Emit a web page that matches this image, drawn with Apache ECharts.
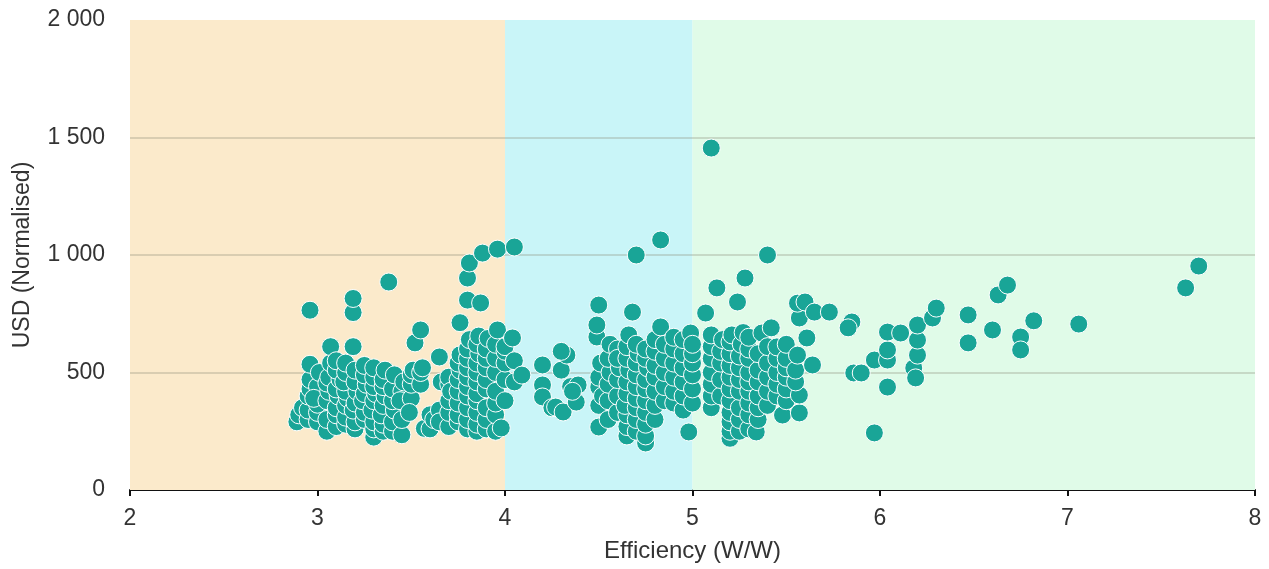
<!DOCTYPE html>
<html>
<head>
<meta charset="utf-8">
<script src="https://cdn.jsdelivr.net/npm/echarts@6/dist/echarts.min.js"></script>
<style>
  html, body { margin: 0; padding: 0; background: #fff; }
  #chart { width: 1269px; height: 569px; }
</style>
</head>
<body>
<div id="chart"></div>
<script>
// efficiency bands (W/W)
const bandEdges = [2, 4, 5, 8];
const bandColors = ['#fbeacb', '#c9f5f8', '#e0fbe8'];

const xTicks = [2, 3, 4, 5, 6, 7, 8];
const yTicks = [0, 500, 1000, 1500, 2000];

// [efficiency, usd normalised]
const ptsLow = [
  [2.89,290],[2.9,320],[2.92,350],
  [2.95,300],[2.95,340],[2.95,400],[2.96,430],[2.96,470],[2.96,535],[2.96,765],
  [3.0,290],[3.0,330],[3.0,365],[3.0,440],[3.01,500],[2.98,390],
  [3.05,250],[3.05,300],[3.05,380],[3.06,420],[3.05,455],[3.06,480],[3.07,540],[3.07,610],
  [3.1,270],[3.1,320],[3.1,350],[3.11,400],[3.1,430],[3.12,470],[3.1,510],[3.1,550],
  [3.15,280],[3.15,310],[3.15,360],[3.16,390],[3.15,420],[3.14,460],[3.15,500],[3.15,540],
  [3.2,260],[3.2,290],[3.19,340],[3.2,370],[3.21,420],[3.2,460],[3.2,510],[3.19,610],[3.19,755],[3.19,815],
  [3.25,300],[3.25,330],[3.24,380],[3.25,410],[3.26,450],[3.25,490],[3.25,530],
  [3.3,225],[3.3,260],[3.3,290],[3.29,340],[3.3,380],[3.31,410],[3.3,440],[3.3,480],[3.3,520],
  [3.35,250],[3.35,280],[3.34,320],[3.35,360],[3.36,400],[3.35,440],[3.35,470],[3.36,510],
  [3.38,885],
  [3.4,250],[3.4,290],[3.41,340],[3.4,380],[3.4,430],[3.41,490],
  [3.45,235],[3.45,300],[3.45,420],[3.46,460],[3.44,380],
  [3.5,390],[3.5,450],[3.5,490],[3.51,510],[3.49,330]
];

const ptsMidLow = [
  [3.52,626],[3.55,681],[3.55,450],[3.55,500],[3.56,520],[3.57,262],
  [3.6,260],[3.6,320],[3.62,300],
  [3.65,566],[3.65,340],[3.65,290],[3.66,460],
  [3.7,270],[3.7,330],[3.7,380],[3.7,450],[3.7,480],[3.71,420],
  [3.75,290],[3.75,320],[3.75,370],[3.75,420],[3.75,470],[3.76,510],[3.75,540],[3.76,575],[3.76,712],
  [3.8,260],[3.8,300],[3.8,350],[3.8,400],[3.8,440],[3.8,480],[3.8,520],[3.8,560],[3.8,600],[3.81,640],[3.8,808],[3.8,902],[3.81,966],
  [3.85,250],[3.85,280],[3.85,330],[3.85,380],[3.85,410],[3.85,460],[3.85,500],[3.85,540],[3.86,580],[3.85,620],[3.86,655],[3.87,796],
  [3.88,1008],
  [3.9,260],[3.9,300],[3.9,350],[3.9,430],[3.9,470],[3.9,520],[3.9,560],[3.9,600],[3.91,645],
  [3.95,250],[3.95,320],[3.95,370],[3.95,420],[3.95,500],[3.95,560],[3.95,620],[3.96,681],[3.96,1025],
  [3.98,264],
  [4.0,380],[4.0,470],[4.0,540],[4.0,590],[4.0,610],
  [4.04,647],[4.05,460],[4.05,550],[4.05,1034],
  [4.09,489]
];

const ptsMid = [
  [4.2,532],[4.2,447],[4.2,396],[4.25,350],[4.27,353],
  [4.3,510],[4.31,332],[4.33,574],[4.3,590],[4.35,440],[4.38,374],[4.39,447],[4.36,420],
  [4.49,651],[4.49,702],[4.5,787],[4.5,268],[4.5,438],[4.5,360],[4.5,480],[4.51,540],[4.52,400],
  [4.55,300],[4.55,380],[4.55,450],[4.56,500],[4.55,560],[4.56,620],
  [4.6,330],[4.6,400],[4.6,470],[4.61,520],[4.6,600],[4.6,560],
  [4.65,230],[4.65,270],[4.65,320],[4.64,360],[4.65,410],[4.65,460],[4.66,510],[4.65,560],[4.65,610],[4.66,660],
  [4.7,250],[4.7,300],[4.7,350],[4.7,390],[4.7,440],[4.7,490],[4.7,540],[4.71,580],[4.7,620],[4.68,757],[4.7,1000],
  [4.75,200],[4.75,230],[4.75,280],[4.75,330],[4.75,380],[4.75,430],[4.75,470],[4.76,520],[4.75,560],[4.75,600],
  [4.8,300],[4.8,360],[4.8,420],[4.8,480],[4.8,530],[4.8,590],[4.8,640],[4.83,694],[4.83,1064],
  [4.85,380],[4.85,440],[4.85,500],[4.85,560],[4.85,620],
  [4.9,370],[4.9,420],[4.9,480],[4.9,540],[4.9,600],[4.9,650],
  [4.95,340],[4.95,400],[4.95,460],[4.95,520],[4.95,580],[4.95,640],[4.99,668],[4.98,247]
];

const ptsHigh = [
  [5.0,370],[5.0,430],[5.0,490],[5.0,540],[5.0,580],[5.0,620],
  [5.07,753],[5.1,350],[5.1,400],[5.1,450],[5.1,500],[5.1,560],[5.1,610],[5.1,660],[5.1,1455],[5.13,860],
  [5.15,400],[5.15,470],[5.15,540],[5.15,590],[5.16,640],
  [5.2,220],[5.2,250],[5.2,290],[5.2,330],[5.2,380],[5.2,430],[5.2,480],[5.2,530],[5.2,580],[5.2,630],[5.21,660],[5.24,800],
  [5.25,250],[5.25,300],[5.25,350],[5.25,420],[5.25,470],[5.25,520],[5.25,570],[5.26,620],[5.27,670],[5.28,902],
  [5.3,260],[5.3,320],[5.3,370],[5.3,420],[5.3,460],[5.3,500],[5.3,560],[5.3,600],[5.3,650],
  [5.34,247],[5.35,300],[5.35,350],[5.35,400],[5.35,460],[5.35,510],[5.35,580],[5.37,668],
  [5.4,360],[5.4,420],[5.4,480],[5.4,540],[5.4,610],[5.42,690],[5.4,1000],
  [5.45,400],[5.45,450],[5.45,500],[5.45,560],[5.45,609],
  [5.48,319],[5.5,380],[5.5,430],[5.5,480],[5.5,520],[5.5,560],[5.5,620],
  [5.57,328],[5.57,404],[5.55,460],[5.55,510],[5.56,574],[5.57,732],[5.56,795],
  [5.6,800],[5.61,647],[5.64,532],[5.65,757]
];

const ptsTop = [
  [5.73,757],[5.85,715],[5.83,690],[5.86,498],[5.9,498],[5.97,243],[5.97,553],[6.04,553],[6.04,596],[6.04,438],[6.04,672],[6.11,668],
  [6.18,519],[6.19,477],[6.2,574],[6.2,638],[6.2,702],[6.28,732],[6.3,774],
  [6.47,745],[6.47,626],[6.6,681],[6.63,830],[6.68,872],[6.75,651],[6.75,596],[6.82,720],[7.06,706],[7.63,860],[7.7,953]
];

const allPoints = [...ptsLow, ...ptsMidLow, ...ptsMid, ...ptsHigh, ...ptsTop];

const FONT = "'Liberation Sans', Arial, sans-serif";
const chart = echarts.init(document.getElementById('chart'));

const fmtThousands = (v) => String(v).replace(/\B(?=(\d{3})+(?!\d))/g, ' ');

chart.setOption({
  animation: false,
  grid: { left: 130, right: 14, top: 20, bottom: 79 },
  xAxis: {
    type: 'value',
    min: xTicks[0],
    max: xTicks[xTicks.length - 1],
    interval: 1,
    name: 'Efficiency (W/W)',
    nameLocation: 'middle',
    nameGap: 49,
    nameTextStyle: { color: '#333', fontSize: 24, fontFamily: FONT },
    axisLine: { lineStyle: { color: '#111', width: 2 } },
    axisTick: { show: true, length: 6, lineStyle: { color: '#111', width: 2 } },
    axisLabel: { color: '#333', fontSize: 23, fontFamily: FONT, margin: 17 },
    splitLine: { show: false },
  },
  yAxis: {
    type: 'value',
    min: yTicks[0],
    max: yTicks[yTicks.length - 1],
    interval: 500,
    z: 1.5,
    name: 'USD (Normalised)',
    nameLocation: 'middle',
    nameGap: 96,
    nameTextStyle: { color: '#333', fontSize: 23, fontFamily: FONT },
    axisLine: { show: false },
    axisTick: { show: false },
    axisLabel: { color: '#333', fontSize: 23, fontFamily: FONT, margin: 25, formatter: fmtThousands },
    splitLine: {
      show: true,
      showMaxLine: false,
      showMinLine: false,
      lineStyle: { color: 'rgba(140,140,120,0.3)', width: 2 },
    },
  },
  series: [{
    type: 'scatter',
    data: allPoints,
    symbolSize: 18,
    itemStyle: { color: '#19a597', borderColor: '#ffffff', borderWidth: 1, opacity: 1 },
    markArea: {
      silent: true,
      z: 1,
      data: bandColors.map((c, i) => [
        { xAxis: bandEdges[i], itemStyle: { color: c } },
        { xAxis: bandEdges[i + 1] },
      ]),
    },
  }],
});
</script>
</body>
</html>
